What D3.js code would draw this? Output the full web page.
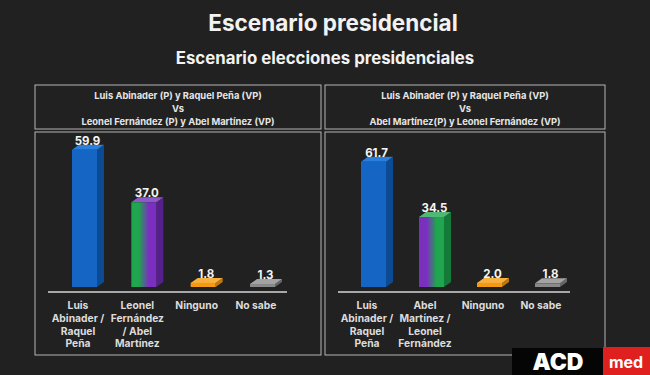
<!DOCTYPE html>
<html><head><meta charset="utf-8">
<script src="https://cdn.jsdelivr.net/npm/d3@7"></script>
<style>html,body{margin:0;padding:0;background:#1f1f1f;}svg{display:block;}</style>
</head><body>
<svg id="c" width="650" height="375"></svg>
<script>
const title = "Escenario presidencial";
const subtitle = "Escenario elecciones presidenciales";
const headerLeft = ["Luis Abinader (P) y Raquel Peña (VP)", "Vs", "Leonel Fernández (P) y Abel Martínez (VP)"];
const headerRight = ["Luis Abinader (P) y Raquel Peña (VP)", "Vs", "Abel Martínez(P) y Leonel Fernández (VP)"];
const categoriesLeft = [["Luis","Abinader /","Raquel","Peña"],["Leonel","Fernández","/ Abel","Martínez"],["Ninguno"],["No sabe"]];
const valuesLeft = [59.9, 37.0, 1.8, 1.3];
const categoriesRight = [["Luis","Abinader /","Raquel","Peña"],["Abel","Martínez /","Leonel","Fernández"],["Ninguno"],["No sabe"]];
const valuesRight = [61.7, 34.5, 2.0, 1.8];

const svg = d3.select("#c");
const font = "Inter, 'Open Sans', sans-serif";
svg.append("rect").attr("width",650).attr("height",375).attr("fill","#212121");

svg.append("text").attr("x",333).attr("y",31).attr("text-anchor","middle")
  .attr("fill","#f2f2f2").attr("font-family",font).attr("font-weight",700).attr("font-size",22.5).text(title);
svg.append("text").attr("x",325).attr("y",64).attr("text-anchor","middle")
  .attr("fill","#f2f2f2").attr("font-family",font).attr("font-weight",700).attr("font-size",16.8).text(subtitle);

const defs = svg.append("defs");
function grad(id, c1, c2){
  const g = defs.append("linearGradient").attr("id",id).attr("x1","0%").attr("x2","100%").attr("y1","0%").attr("y2","0%");
  g.append("stop").attr("offset","0%").attr("stop-color",c1);
  g.append("stop").attr("offset","30%").attr("stop-color",c1);
  g.append("stop").attr("offset","70%").attr("stop-color",c2);
  g.append("stop").attr("offset","100%").attr("stop-color",c2);
}
grad("gpL","#1fa64e","#7a2fbf");
grad("gpR","#7a2fbf","#1fa64e");

const green = {front:"#1fa64e", side:"#137a37", top:"#36c46a"};
const purple = {front:"#7a2fbf", side:"#55208a", top:"#9450d6"};
const styleBlue = {front:"#1566c4", side:"#0c4a93", top:"#2a7fdc"};
const styleOrange = {front:"#f39a12", side:"#c0770a", top:"#f7b13e"};
const styleGray = {front:"#8a8a8a", side:"#666666", top:"#a3a3a3"};

function panel(opts){
  const {x0, x1, header, cats, vals, pts, ymax, secondStyle} = opts;
  svg.append("rect").attr("x",x0).attr("y",85).attr("width",x1-x0).attr("height",44)
    .attr("fill","none").attr("stroke","#b5b5b5").attr("stroke-width",1);
  const cx = (x0+x1)/2;
  header.forEach((t,i)=>{
    svg.append("text").attr("x",cx).attr("y",99+i*13).attr("text-anchor","middle")
      .attr("fill","#e6e6e6").attr("font-family",font).attr("font-weight",700).attr("font-size",9.4).text(t);
  });
  svg.append("rect").attr("x",x0).attr("y",132).attr("width",x1-x0).attr("height",223)
    .attr("fill","none").attr("stroke","#b5b5b5").attr("stroke-width",1);

  const x = d3.scalePoint().domain(d3.range(cats.length)).range(pts);
  const y = d3.scaleLinear().domain([0, ymax]).range([287, 145]);
  const w = 25, d = 7, d2 = 5;
  const styles = [styleBlue, secondStyle, styleOrange, styleGray];

  const g = svg.append("g");
  vals.forEach((v,i)=>{
    const bx = x(i) - 6, top = y(v), base = y(0);
    const st = styles[i];
    g.append("path").attr("d",`M${bx+w},${top} L${bx+w+d},${top-d2} L${bx+w+d},${base-d2} L${bx+w},${base} Z`).attr("fill",st.side);
    g.append("path").attr("d",`M${bx},${top} L${bx+d},${top-d2} L${bx+w+d},${top-d2} L${bx+w},${top} Z`).attr("fill",st.top);
    g.append("rect").attr("x",bx).attr("y",top).attr("width",w).attr("height",Math.max(0.5,base-top)).attr("fill",st.fill || st.front);
    g.append("text").attr("x",bx+w/2+3).attr("y",top-5).attr("text-anchor","middle")
      .attr("fill","#f5f5f5").attr("font-family",font).attr("font-weight",700).attr("font-size",11.5)
      .text(d3.format(".1f")(v));
  });
  svg.append("line").attr("x1",opts.ax0).attr("x2",opts.ax1).attr("y1",292).attr("y2",292)
    .attr("stroke","#a8a8a8").attr("stroke-width",2);
  cats.forEach((lines,i)=>{
    lines.forEach((t,j)=>{
      svg.append("text").attr("x",x(i)).attr("y",309+j*12.8).attr("text-anchor","middle")
        .attr("fill","#dcdcdc").attr("font-family",font).attr("font-weight",700).attr("font-size",10.3).text(t);
    });
  });
}

panel({x0:35, x1:321, header:headerLeft, cats:categoriesLeft, vals:valuesLeft, pts:[78,256], ymax:62,
  ax0:48, ax1:287, secondStyle:{front:"#1fa64e", fill:"url(#gpL)", side:purple.side, top:"#8c5ac8"}});
panel({x0:325, x1:605, header:headerRight, cats:categoriesRight, vals:valuesRight, pts:[367,541], ymax:70,
  ax0:338, ax1:570, secondStyle:{front:"#7a2fbf", fill:"url(#gpR)", side:green.side, top:"#4fb874"}});

// logo
svg.append("rect").attr("x",512).attr("y",348).attr("width",92).attr("height",27).attr("fill","#050505");
svg.append("rect").attr("x",603).attr("y",347).attr("width",47).attr("height",28).attr("fill","#e0201f");
svg.append("text").attr("x",558).attr("y",370).attr("text-anchor","middle").attr("fill","#ffffff").attr("font-family",font)
  .attr("font-weight",900).attr("font-size",23).text("ACD");
svg.append("text").attr("x",626).attr("y",368).attr("text-anchor","middle").attr("fill","#ffffff").attr("font-family",font)
  .attr("font-weight",700).attr("font-size",16).text("med");
</script>
</body></html>
